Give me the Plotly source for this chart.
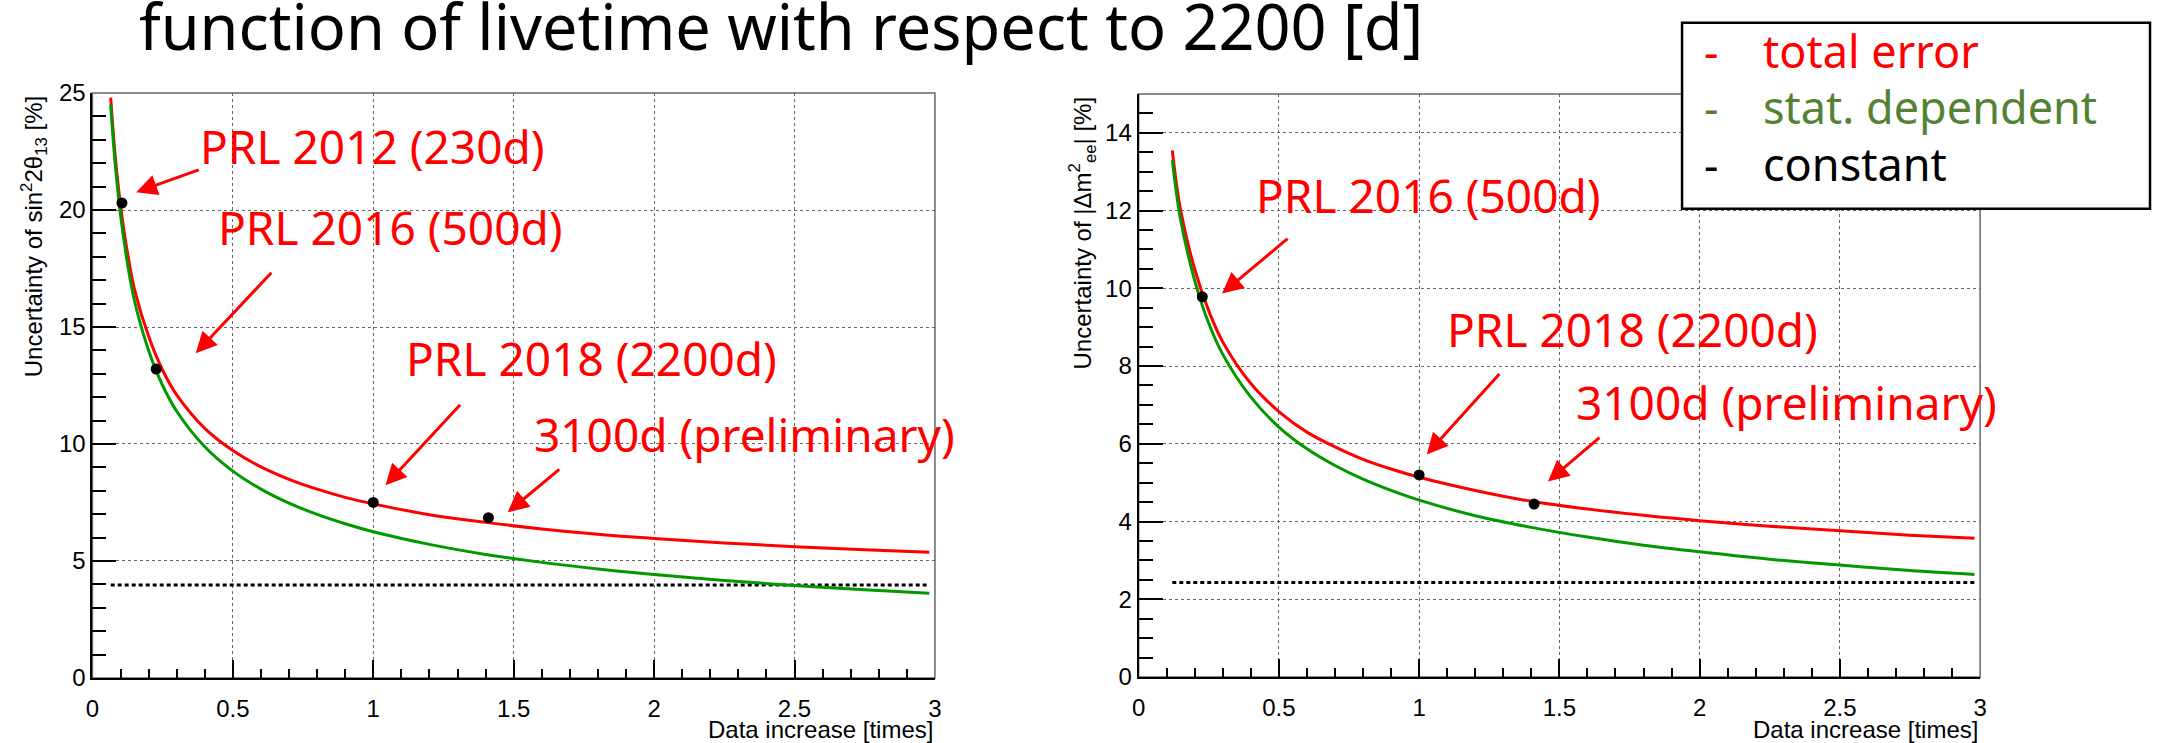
import plotly.graph_objects as go

W, H = 2159, 743

# ---------------- sin^2(2theta13) panel ----------------
x_s22t = [0.065, 0.08, 0.10, 0.125, 0.15, 0.2, 0.25, 0.3, 0.4, 0.5, 0.6, 0.7,
          0.8, 0.9, 1.0, 1.2, 1.4, 1.6, 1.8, 2.0, 2.25, 2.5, 2.75, 2.98]
total_s22t = [24.8, 22.45, 20.2, 18.15, 16.6, 14.6, 13.15, 12.1, 10.67, 9.72,
              9.02, 8.49, 8.07, 7.72, 7.44, 6.98, 6.65, 6.37, 6.14, 5.96,
              5.77, 5.61, 5.48, 5.37]
stat_s22t = [24.5, 22.1, 19.8, 17.7, 16.1, 14.0, 12.5, 11.4, 9.88, 8.84, 8.07,
             7.47, 6.99, 6.59, 6.25, 5.71, 5.28, 4.94, 4.66, 4.42, 4.17, 3.95,
             3.77, 3.62]
const_x_s22t = [0.065, 2.98]
const_s22t = 3.97
prl_x_s22t = [0.105, 0.227, 1.0, 1.41]
prl_y_s22t = [20.3, 13.2, 7.5, 6.85]

# ---------------- |dm^2_ee| panel ----------------
x_dm = [0.12, 0.15, 0.2, 0.25, 0.3, 0.4, 0.5, 0.6, 0.7, 0.8, 0.9, 1.0, 1.2,
        1.4, 1.6, 1.8, 2.0, 2.25, 2.5, 2.75, 2.98]
total_dm = [13.55, 12.0, 10.49, 9.42, 8.62, 7.55, 6.83, 6.3, 5.92, 5.6, 5.35,
            5.14, 4.8, 4.52, 4.32, 4.16, 4.02, 3.88, 3.76, 3.65, 3.57]
stat_dm = [13.3, 11.75, 10.2, 9.1, 8.3, 7.2, 6.43, 5.87, 5.44, 5.09, 4.8, 4.55,
           4.15, 3.85, 3.6, 3.39, 3.22, 3.03, 2.88, 2.74, 2.64]
const_x_dm = [0.12, 2.98]
const_dm = 2.43
prl_x_dm = [0.227, 1.0, 1.41]
prl_y_dm = [9.78, 5.2, 4.45]

labels_s22t = ["PRL 2012 (230d)", "PRL 2016 (500d)", "PRL 2018 (2200d)",
               "3100d (preliminary)"]
labels_dm = ["PRL 2016 (500d)", "PRL 2018 (2200d)", "3100d (preliminary)"]
legend_labels = ["total error", "stat. dependent", "constant"]

RED = "#ff0000"
GREEN = "#009900"
LEG_GREEN = "#548235"
SANS = "Liberation Sans, Arial, sans-serif"
TICK_FONT = dict(family=SANS, size=24, color="black")
ANN_FONT = "Noto Sans, Open Sans, sans-serif"


def px(x):
    return x / W


def py(y):
    return 1 - y / H


fig = go.Figure()

panels = [
    ("x", "y", x_s22t, total_s22t, stat_s22t, const_x_s22t, const_s22t,
     prl_x_s22t, prl_y_s22t),
    ("x2", "y2", x_dm, total_dm, stat_dm, const_x_dm, const_dm,
     prl_x_dm, prl_y_dm),
]
for xa, ya, xs, tot, st, cx, cv, dx, dy in panels:
    fig.add_trace(go.Scatter(x=cx, y=[cv, cv], mode="lines", xaxis=xa, yaxis=ya,
                             line=dict(color="black", width=3, dash="4px,3px"),
                             showlegend=False, hoverinfo="skip"))
    fig.add_trace(go.Scatter(x=xs, y=tot, mode="lines", xaxis=xa, yaxis=ya,
                             line=dict(color=RED, width=3, shape="spline"),
                             showlegend=False))
    fig.add_trace(go.Scatter(x=xs, y=st, mode="lines", xaxis=xa, yaxis=ya,
                             line=dict(color=GREEN, width=3, shape="spline"),
                             showlegend=False))
    fig.add_trace(go.Scatter(x=dx, y=dy, mode="markers", xaxis=xa, yaxis=ya,
                             marker=dict(color="black", size=11),
                             showlegend=False))

x_common = dict(
    range=[0, 3], dtick=0.5, tick0=0, ticks="inside", ticklen=18, tickwidth=2,
    tickcolor="black", showline=True, linecolor="black", linewidth=2,
    showgrid=True, gridcolor="#666666", griddash="dot", gridwidth=1,
    zeroline=False, tickfont=TICK_FONT, ticklabelstandoff=8,
    minor=dict(dtick=0.1, ticks="inside", ticklen=9, tickwidth=2,
               tickcolor="black", showgrid=False),
)
y_common = dict(
    ticks="inside", ticklen=24, tickwidth=2, tickcolor="black",
    showline=True, linecolor="black", linewidth=2, showgrid=True,
    gridcolor="#666666", griddash="dot", gridwidth=1, zeroline=False,
    tickfont=TICK_FONT,
)

fig.update_layout(
    width=W, height=H, margin=dict(l=0, r=0, t=0, b=0),
    paper_bgcolor="white", plot_bgcolor="white", showlegend=False,
    xaxis=dict(domain=[px(86), px(934)], anchor="y", **x_common),
    yaxis=dict(domain=[py(689), py(82)], anchor="x", range=[0, 25], dtick=5,
               minor=dict(dtick=1, ticks="inside", ticklen=14, tickwidth=2,
                          tickcolor="black", showgrid=False),
               **y_common),
    xaxis2=dict(domain=[px(1139), px(1986)], anchor="y2", **x_common),
    yaxis2=dict(domain=[py(688), py(83)], anchor="x2", range=[0, 15], dtick=2,
                minor=dict(dtick=0.5, ticks="inside", ticklen=14, tickwidth=2,
                           tickcolor="black", showgrid=False),
                **y_common),
)

shapes = []
# light frame on top / right of each pad
for xr, yr in [("x domain", "y domain"), ("x2 domain", "y2 domain")]:
    shapes.append(dict(type="rect", xref=xr, yref=yr, x0=0, x1=1, y0=0, y1=1,
                       line=dict(color="#666666", width=1.5), layer="below"))
# legend box
shapes.append(dict(type="rect", xref="paper", yref="paper",
                   x0=px(1686), x1=px(2157), y0=py(202), y1=py(9),
                   fillcolor="white", line=dict(color="black", width=2.5),
                   layer="above"))

ann = []
# page title
ann.append(dict(text="function of livetime with respect to 2200 [d]",
                xref="paper", yref="paper", x=px(131), y=py(12),
                xanchor="left", yanchor="middle", showarrow=False,
                font=dict(family=ANN_FONT, size=63, color="black")))

# axis titles
ann.append(dict(text="Uncertainty of sin<sup>2</sup>2θ<sub>13</sub> [%]",
                xref="paper", yref="paper", x=px(28), y=py(83),
                xanchor="center", yanchor="top", textangle=-90, showarrow=False,
                font=dict(family=SANS, size=24, color="black")))
ann.append(dict(text="Uncertainty of |Δm<sup>2</sup><sub>ee</sub>| [%]",
                xref="paper", yref="paper", x=px(1083), y=py(83),
                xanchor="center", yanchor="top", textangle=-90, showarrow=False,
                font=dict(family=SANS, size=24, color="black")))
for xr in ["x domain", "x2 domain"]:
    ann.append(dict(text="Data increase [times]", xref=xr, yref="paper",
                    x=1, y=py(742), xanchor="right", yanchor="middle",
                    showarrow=False,
                    font=dict(family=SANS, size=24, color="black")))

# red labels (left edge, vertical centre in pixels)
label_pos_s22t = [(192, 137), (210, 221), (400, 357), (528, 436)]
label_pos_dm = [(1255, 188), (1447, 327), (1577, 403)]
for txt, (lx, ly) in list(zip(labels_s22t, label_pos_s22t)) + \
        list(zip(labels_dm, label_pos_dm)):
    ann.append(dict(text=txt, xref="paper", yref="paper", x=px(lx), y=py(ly),
                    xanchor="left", yanchor="middle", showarrow=False,
                    font=dict(family=ANN_FONT, size=46, color=RED)))

# arrows: (head x, head y, tail x, tail y) in pixels
arrows = [(130, 185, 194, 162), (190, 352, 267, 270), (381, 489, 457, 407),
          (504, 517, 557, 473), (1223, 290, 1290, 234), (1429, 457, 1503, 375),
          (1551, 485, 1604, 440)]
for hx, hy, tx, ty in arrows:
    ann.append(dict(text="", xref="paper", yref="paper", x=px(hx), y=py(hy),
                    ax=tx - hx, ay=ty - hy, showarrow=True, arrowhead=2,
                    arrowsize=1.4, arrowwidth=3, arrowcolor=RED, standoff=0))

# legend entries
leg_colors = [RED, LEG_GREEN, "black"]
leg_rows = [38, 96, 155]
for txt, col, ry in zip(legend_labels, leg_colors, leg_rows):
    ann.append(dict(text="-", xref="paper", yref="paper", x=px(1706), y=py(ry),
                    xanchor="left", yanchor="middle", showarrow=False,
                    font=dict(family=ANN_FONT, size=45, color=col)))
    ann.append(dict(text=txt, xref="paper", yref="paper", x=px(1765), y=py(ry),
                    xanchor="left", yanchor="middle", showarrow=False,
                    font=dict(family=ANN_FONT, size=45, color=col)))

fig.update_layout(shapes=shapes, annotations=ann)
fig.write_html("out.html")
